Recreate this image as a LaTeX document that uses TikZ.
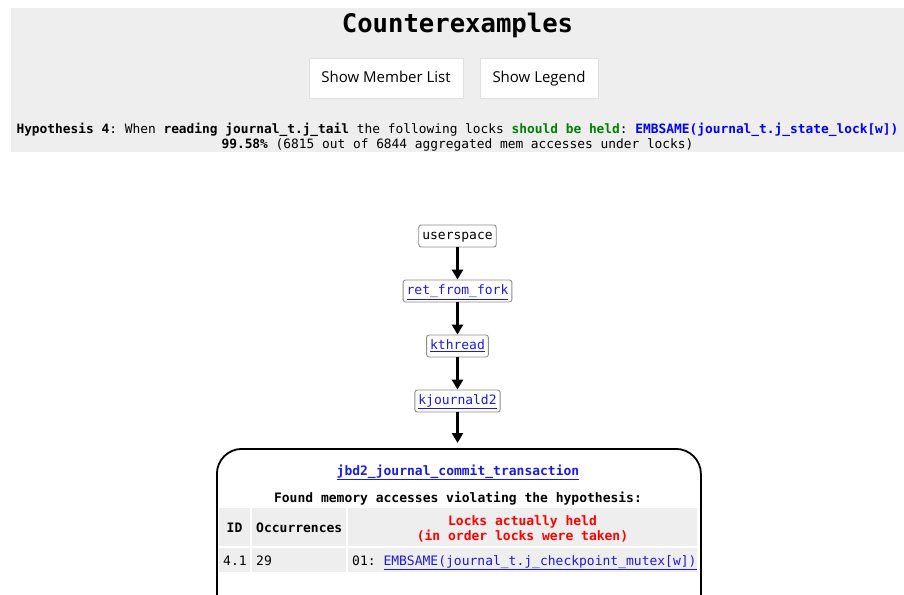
\documentclass[tikz,border=0pt]{standalone}
\usepackage{fontspec}
\setmainfont{DejaVu Sans Mono}
\newfontfamily\btnfont{Open Sans}
\usetikzlibrary{arrows.meta}
\definecolor{bggrey}{HTML}{EEEEEE}
\definecolor{linkblue}{HTML}{1A1AE6}
\definecolor{hypblue}{HTML}{0000FF}
\definecolor{hypgreen}{HTML}{008000}
\definecolor{hypred}{HTML}{FF0000}
\newcommand{\lnk}[1]{\textcolor{linkblue}{\underline{#1}}}
\newcommand{\mfont}{\fontsize{13}{15}\selectfont}
\frenchspacing
\begin{document}
\begin{tikzpicture}[x=1pt,y=-1pt,
  fn/.style={draw=black!45, line width=0.9pt, rounded corners=2.5pt, fill=white, font=\mfont,
    inner xsep=3.5pt, inner ysep=0pt, minimum height=22pt, text height=10pt, text depth=3pt},
  arr/.style={-{Triangle[width=11pt,length=10pt]}, line width=3pt},
  btn/.style={draw=black!12, fill=white, font=\btnfont\fontsize{15}{18}\selectfont,
    minimum height=40pt, text height=11pt, text depth=3pt},
  txt/.style={font=\mfont, inner sep=0pt, anchor=base},
  cell/.style={fill=bggrey, draw=none}]
\useasboundingbox (0,0) rectangle (904,594);
\clip (0,0) rectangle (904,594);
% header
\fill[bggrey] (11,8) rectangle (904,152);
\node[txt, font=\bfseries\fontsize{25.6}{28}\selectfont] (title) at (457.5,33) {Counterexamples};
\node[btn, minimum width=154pt] (b1) at (386,78) {Show Member List};
\node[btn, minimum width=118pt] (b2) at (539,78) {Show Legend};
\node[txt, font=\fontsize{12.85}{15}\selectfont] (hyp) at (457.5,133) {\textbf{Hypothesis 4}: When \textbf{reading journal\_t.j\_tail} the following locks \textbf{\textcolor{hypgreen}{should be held}}: \textbf{\textcolor{hypblue}{EMBSAME(journal\_t.j\_state\_lock[w])}}};
\node[txt, font=\fontsize{12.85}{15}\selectfont] (pct) at (457.5,148) {\textbf{99.58\%} (6815 out of 6844 aggregated mem accesses under locks)};
% call chain
\node[fn] (us) at (457.5,236) {userspace};
\node[fn] (rff) at (457.5,291) {\lnk{ret\_from\_fork}};
\node[fn] (kth) at (457.5,346) {\lnk{kthread}};
\node[fn] (kj) at (457.5,401) {\lnk{kjournald2}};
\node[draw, line width=1.8pt, rounded corners=25pt, minimum width=484pt, minimum height=200pt,
  anchor=north west, inner sep=0pt] (commit) at (216,448) {};
\coordinate (cin) at (457.5,443);
\draw[arr] (us.south) -- (rff.north);
\draw[arr] (rff.south) -- (kth.north);
\draw[arr] (kth.south) -- (kj.north);
\draw[arr] (kj.south) -- (cin);
% inside box
\node[txt, font=\mfont\bfseries] (fname) at (458,475) {\lnk{jbd2\_journal\_commit\_transaction}};
\node[txt, font=\mfont\bfseries] (found) at (458,502) {Found memory accesses violating the hypothesis:};
\fill[cell] (219,508) rectangle (250,546);
\fill[cell] (252,508) rectangle (346,546);
\fill[cell] (348,508) rectangle (697,546);
\fill[cell] (219,548) rectangle (250,572);
\fill[cell] (252,548) rectangle (346,572);
\fill[cell] (348,548) rectangle (697,572);
\node[txt, font=\mfont\bfseries] (hid) at (234.5,532) {ID};
\node[txt, font=\mfont\bfseries, anchor=base west] (hocc) at (256,532) {Occurrences};
\node[txt, font=\mfont\bfseries, text=hypred] (hl1) at (522.5,525) {Locks actually held};
\node[txt, font=\mfont\bfseries, text=hypred] (hl2) at (522.5,540) {(in order locks were taken)};
\node[txt, anchor=base west] (did) at (223,565) {4.1};
\node[txt, anchor=base west] (docc) at (256,565) {29};
\node[txt, anchor=base west] (dlk) at (352,565) {01: \lnk{EMBSAME(journal\_t.j\_checkpoint\_mutex[w])}};
\end{tikzpicture}
\end{document}
